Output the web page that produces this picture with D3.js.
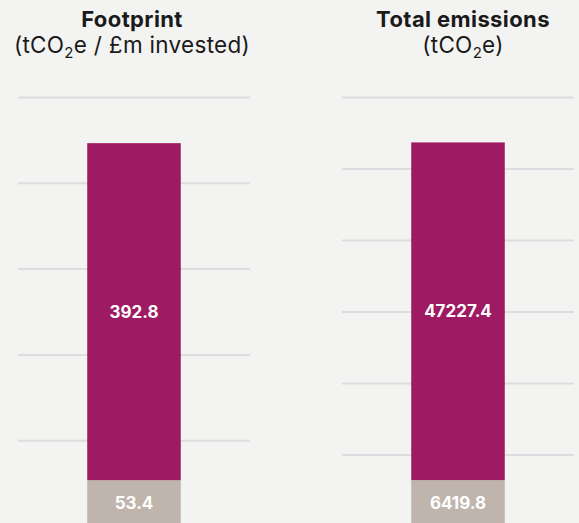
<!DOCTYPE html>
<html>
<head>
<meta charset="utf-8">
<script src="https://cdn.jsdelivr.net/npm/d3@7"></script>
<style>
  html, body { margin: 0; padding: 0; background: #f3f3f1; }
  svg { display: block; font-family: Inter, "Open Sans", sans-serif; }
</style>
</head>
<body>
<div id="chart"></div>
<script>
// dati
const panels = ["Footprint", "Total emissions"];
const subtitles = [["(tCO", "2", "e / £m invested)"], ["(tCO", "2", "e)"]];
const lowerValues = [53.4, 6419.8];   // segmento beige
const upperValues = [392.8, 47227.4]; // segmento magenta
const gridTicks = [
  [0, 100, 200, 300, 400, 500],
  [0, 10000, 20000, 30000, 40000, 50000, 60000]
];

const width = 579;
const height = 523;
const colors = { lower: "#bfb5ad", upper: "#9e1b63" };

const svg = d3.select("#chart")
  .append("svg")
  .attr("width", width)
  .attr("height", height);

// ogni pannello ha la sua area orizzontale
const panelX = [[18, 250], [342, 574]];
const titleX = [132, 463];

panels.forEach((name, i) => {
  const ticks = gridTicks[i];
  const y = d3.scaleLinear()
    .domain([0, ticks[ticks.length - 1]])
    .range([526, 97]);

  const x = d3.scaleBand()
    .domain([name])
    .range(panelX[i])
    .paddingInner(0)
    .paddingOuter(0.74);

  const g = svg.append("g");

  // linee della griglia
  const grid = g.append("g")
    .attr("transform", `translate(${panelX[i][0]},0)`)
    .call(d3.axisLeft(y)
      .tickValues(ticks)
      .tickSize(-(panelX[i][1] - panelX[i][0]))
      .tickFormat(""));
  grid.select(".domain").remove();
  grid.selectAll(".tick line")
    .attr("stroke", "#dddce0")
    .attr("stroke-width", 2);

  // barre impilate
  const rows = [{ key: name, lower: lowerValues[i], upper: upperValues[i] }];
  const stacked = d3.stack().keys(["lower", "upper"])(rows);

  stacked.forEach(series => {
    const d = series[0];
    g.append("rect")
      .attr("x", x(name))
      .attr("width", x.bandwidth())
      .attr("y", y(d[1]))
      .attr("height", y(d[0]) - y(d[1]))
      .attr("fill", colors[series.key]);

    g.append("text")
      .attr("x", x(name) + x.bandwidth() / 2)
      .attr("y", (y(d[0]) + y(d[1])) / 2)
      .attr("dy", "0.36em")
      .attr("text-anchor", "middle")
      .attr("fill", "#fff")
      .attr("font-size", 17)
      .attr("font-weight", 700)
      .text(d.data[series.key]);
  });

  // titoli
  g.append("text")
    .attr("x", titleX[i])
    .attr("y", 26.5)
    .attr("text-anchor", "middle")
    .attr("fill", "#1a1a1a")
    .attr("font-size", 22)
    .attr("font-weight", 700)
    .attr("letter-spacing", 0.4)
    .text(name);

  const sub = g.append("text")
    .attr("x", titleX[i])
    .attr("y", 53)
    .attr("text-anchor", "middle")
    .attr("fill", "#1a1a1a")
    .attr("font-size", 22.5)
    .attr("letter-spacing", 0.3);
  sub.append("tspan").text(subtitles[i][0]);
  sub.append("tspan").attr("font-size", 15).attr("dy", 5).text(subtitles[i][1]);
  sub.append("tspan").attr("dy", -5).text(subtitles[i][2]);
});
</script>
</body>
</html>
